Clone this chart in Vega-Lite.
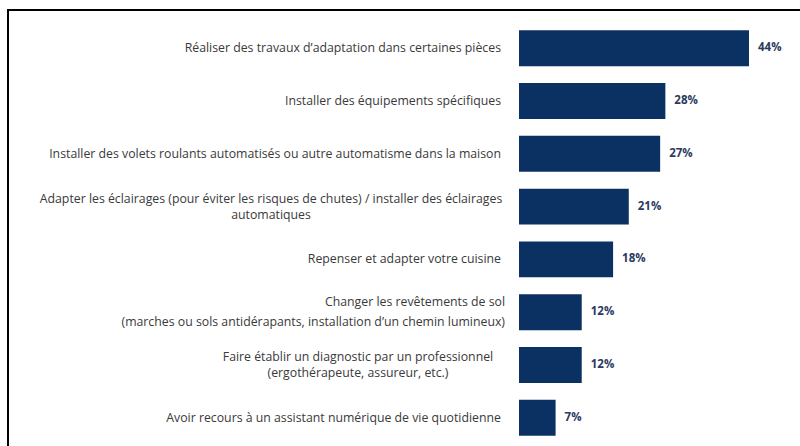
{
  "$schema": "https://vega.github.io/schema/vega-lite/v6.json",
  "autosize": {"type": "none"},
  "width": 802,
  "height": 446,
  "padding": {"left": 8, "top": 10, "right": -10, "bottom": -10},
  "background": "#ffffff",
  "config": {
    "view": {"stroke": "#000000", "strokeWidth": 2},
    "font": "Open Sans",
    "text": {"font": "Open Sans"}
  },
  "data": {
    "values": [
      {"label": "Réaliser des travaux d’adaptation dans certaines pièces", "value": 44},
      {"label": "Installer des équipements spécifiques", "value": 28},
      {"label": "Installer des volets roulants automatisés ou autre automatisme dans la maison", "value": 27},
      {"label": "Adapter les éclairages (pour éviter les risques de chutes) / installer des éclairages\nautomatiques", "value": 21},
      {"label": "Repenser et adapter votre cuisine", "value": 18},
      {"label": "Changer les revêtements de sol\n(marches ou sols antidérapants, installation d’un chemin lumineux)", "value": 12},
      {"label": "Faire établir un diagnostic par un professionnel\n(ergothérapeute, assureur, etc.)", "value": 12},
      {"label": "Avoir recours à un assistant numérique de vie quotidienne", "value": 7}
    ]
  },
  "transform": [
    {"calculate": "datum.value + '%'", "as": "valueLabel"},
    {"calculate": "indexof(datum.label, 'Adapter') == 0 ? 'a' : (indexof(datum.label, 'Faire') == 0 ? 'f' : (indexof(datum.label, 'Changer') == 0 ? 'c' : 'r'))", "as": "grp"}
  ],
  "encoding": {
    "y": {
      "field": "label",
      "type": "nominal",
      "sort": null,
      "axis": null,
      "scale": {"paddingInner": 0.32, "paddingOuter": 0.383}
    }
  },
  "layer": [
    {
      "mark": {"type": "bar", "color": "#0b3163"},
      "encoding": {
        "x": {
          "field": "value",
          "type": "quantitative",
          "axis": null,
          "scale": {"domain": [-97.76, 55.67], "nice": false, "zero": false}
        }
      }
    },
    {
      "mark": {"type": "text", "align": "left", "baseline": "middle", "dx": 9, "fontSize": 11.5, "fontWeight": "bold", "color": "#2b3a5e"},
      "encoding": {
        "x": {"field": "value", "type": "quantitative"},
        "text": {"field": "valueLabel"}
      }
    },
    {
      "transform": [{"filter": "datum.grp == 'r'"}],
      "mark": {"type": "text", "align": "right", "baseline": "middle", "dx": -18, "fontSize": 12.3, "color": "#3a3a3a", "lineBreak": "\n", "lineHeight": 16},
      "encoding": {
        "x": {"datum": 0, "type": "quantitative"},
        "text": {"field": "label"}
      }
    },
    {
      "transform": [{"filter": "datum.grp == 'c'"}],
      "mark": {"type": "text", "align": "right", "baseline": "middle", "dx": -14, "dy": -10, "fontSize": 12.3, "color": "#3a3a3a", "lineBreak": "\n", "lineHeight": 20},
      "encoding": {
        "x": {"datum": 0, "type": "quantitative"},
        "text": {"field": "label"}
      }
    },
    {
      "transform": [{"filter": "datum.grp == 'a'"}],
      "mark": {"type": "text", "align": "center", "baseline": "middle", "dx": -248, "dy": -8, "fontSize": 12.3, "color": "#3a3a3a", "lineBreak": "\n", "lineHeight": 16},
      "encoding": {
        "x": {"datum": 0, "type": "quantitative"},
        "text": {"field": "label"}
      }
    },
    {
      "transform": [{"filter": "datum.grp == 'f'"}],
      "mark": {"type": "text", "align": "center", "baseline": "middle", "dx": -161, "dy": -8, "fontSize": 12.3, "color": "#3a3a3a", "lineBreak": "\n", "lineHeight": 16},
      "encoding": {
        "x": {"datum": 0, "type": "quantitative"},
        "text": {"field": "label"}
      }
    }
  ]
}
